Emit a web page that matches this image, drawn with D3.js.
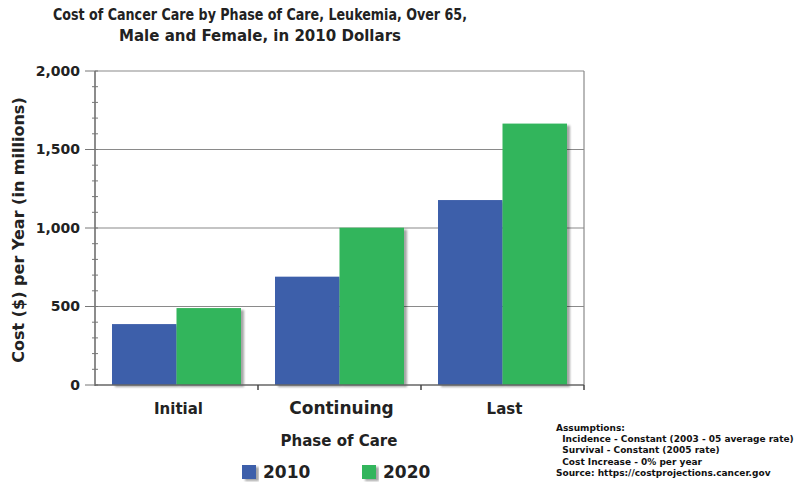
<!DOCTYPE html>
<html>
<head>
<meta charset="utf-8">
<script src="https://cdn.jsdelivr.net/npm/d3@7"></script>
<style>
  body { margin: 0; background: #fff; }
  svg { font-family: "DejaVu Sans", sans-serif; font-weight: bold; }
</style>
</head>
<body>
<svg id="chart" width="801" height="484"></svg>
<script>
const phases = ["Initial", "Continuing", "Last"];
const years = ["2010", "2020"];
const cost2010 = [388, 690, 1178];
const cost2020 = [490, 1002, 1665];
const yTicks = [0, 500, 1000, 1500, 2000];
const titleLines = ["Cost of Cancer Care by Phase of Care, Leukemia, Over 65,", "Male and Female, in 2010 Dollars"];
const notes = [
  "Assumptions:",
  "  Incidence - Constant (2003 - 05 average rate)",
  "  Survival - Constant (2005 rate)",
  "  Cost Increase - 0% per year",
  "Source: https://costprojections.cancer.gov"
];

(function () {
  const svg = d3.select("#chart");
  const colors = { "2010": "#3e5eaa", "2020": "#33b55b" };
  const left = 95, right = 584, top = 71, bottom = 385;

  const x = d3.scaleBand().domain(phases).range([left, right]).paddingInner(0).paddingOuter(0);
  const inner = d3.scaleBand().domain(years).range([17, x.bandwidth() - 17]);
  const y = d3.scaleLinear().domain([0, 2000]).range([bottom, top]);

  const defs = svg.append("defs");
  const shadow = defs.append("filter").attr("id", "shadow")
    .attr("x", "-10%").attr("y", "-10%").attr("width", "130%").attr("height", "130%");
  shadow.append("feDropShadow").attr("dx", 3).attr("dy", 2).attr("stdDeviation", 1.2)
    .attr("flood-color", "#000").attr("flood-opacity", 0.35);

  // title
  const titleWidths = [414, 282];
  svg.append("g").selectAll("text").data(titleLines).join("text")
    .attr("x", 260).attr("y", (d, i) => 20 + i * 21)
    .attr("text-anchor", "middle").attr("font-size", 15).attr("fill", "#222")
    .attr("textLength", (d, i) => titleWidths[i]).attr("lengthAdjust", "spacingAndGlyphs")
    .text((d) => d);

  // gridlines + frame
  svg.append("g").selectAll("line").data(yTicks.slice(1)).join("line")
    .attr("x1", left).attr("x2", right)
    .attr("y1", (d) => y(d)).attr("y2", (d) => y(d))
    .attr("stroke", "#8a8a8a").attr("stroke-width", 1.2);
  svg.append("line").attr("x1", right).attr("x2", right).attr("y1", top).attr("y2", bottom)
    .attr("stroke", "#8a8a8a").attr("stroke-width", 1.2);

  // bars
  const rows = phases.map((p, i) => ({ phase: p, values: [cost2010[i], cost2020[i]] }));
  const group = svg.append("g").selectAll("g").data(rows).join("g")
    .attr("transform", (d) => `translate(${x(d.phase)},0)`);
  group.selectAll(".bar").data((d) => d.values.map((v, j) => ({ year: years[j], value: v })))
    .join("rect").attr("class", "bar")
    .attr("x", (d) => inner(d.year))
    .attr("y", (d) => y(d.value))
    .attr("width", inner.bandwidth())
    .attr("height", (d) => bottom - y(d.value))
    .attr("fill", (d) => colors[d.year])
    .attr("filter", "url(#shadow)");

  // y axis
  const yAxis = svg.append("g").attr("transform", `translate(${left},0)`);
  yAxis.append("line").attr("y1", top).attr("y2", bottom + 1).attr("stroke", "#666").attr("stroke-width", 1.5);
  yAxis.selectAll(".minor").data(d3.range(0, 2001, 100)).join("line").attr("class", "minor")
    .attr("x1", (d) => (d % 500 === 0 ? -10 : -3)).attr("x2", 3)
    .attr("y1", (d) => y(d)).attr("y2", (d) => y(d))
    .attr("stroke", "#777").attr("stroke-width", 1);
  yAxis.selectAll("text").data(yTicks).join("text")
    .attr("x", -15).attr("y", (d) => y(d)).attr("dy", "0.35em")
    .attr("text-anchor", "end").attr("font-size", 14).attr("fill", "#222")
    .text(d3.format(","));

  // x axis
  const xAxis = svg.append("g");
  xAxis.append("line").attr("x1", left).attr("x2", right).attr("y1", bottom).attr("y2", bottom)
    .attr("stroke", "#666").attr("stroke-width", 1.5);
  xAxis.selectAll(".tick").data(phases.slice(1).concat(["end"])).join("line").attr("class", "tick")
    .attr("x1", (d) => (d === "end" ? right : x(d))).attr("x2", (d) => (d === "end" ? right : x(d)))
    .attr("y1", bottom).attr("y2", bottom + 5)
    .attr("stroke", "#444").attr("stroke-width", 1.5);
  xAxis.selectAll("text").data(phases).join("text")
    .attr("x", (d) => x(d) + x.bandwidth() / 2 + 2).attr("y", 414)
    .attr("text-anchor", "middle").attr("font-size", (d) => (d === "Continuing" ? 17 : 15))
    .attr("fill", "#222").text((d) => d);

  // axis titles
  svg.append("text").attr("transform", "translate(24,230) rotate(-90)")
    .attr("text-anchor", "middle").attr("font-size", 16).attr("fill", "#222")
    .text("Cost ($) per Year (in millions)");
  svg.append("text").attr("x", 339).attr("y", 446)
    .attr("text-anchor", "middle").attr("font-size", 15).attr("fill", "#222")
    .text("Phase of Care");

  // legend
  const legend = svg.append("g").selectAll("g").data(years).join("g")
    .attr("transform", (d, i) => `translate(${242 + i * 120},465)`);
  legend.append("rect").attr("width", 14).attr("height", 14)
    .attr("fill", (d) => colors[d]).attr("filter", "url(#shadow)");
  legend.append("text").attr("x", 21).attr("y", 7).attr("dy", "0.36em")
    .attr("font-size", 17).attr("fill", "#222").text((d) => d);

  // notes
  svg.append("g").selectAll("text").data(notes).join("text")
    .attr("x", 556).attr("y", (d, i) => 431 + i * 11.2)
    .attr("font-size", 9).attr("fill", "#111")
    .style("white-space", "pre")
    .text((d) => d);
})();
</script>
</body>
</html>
